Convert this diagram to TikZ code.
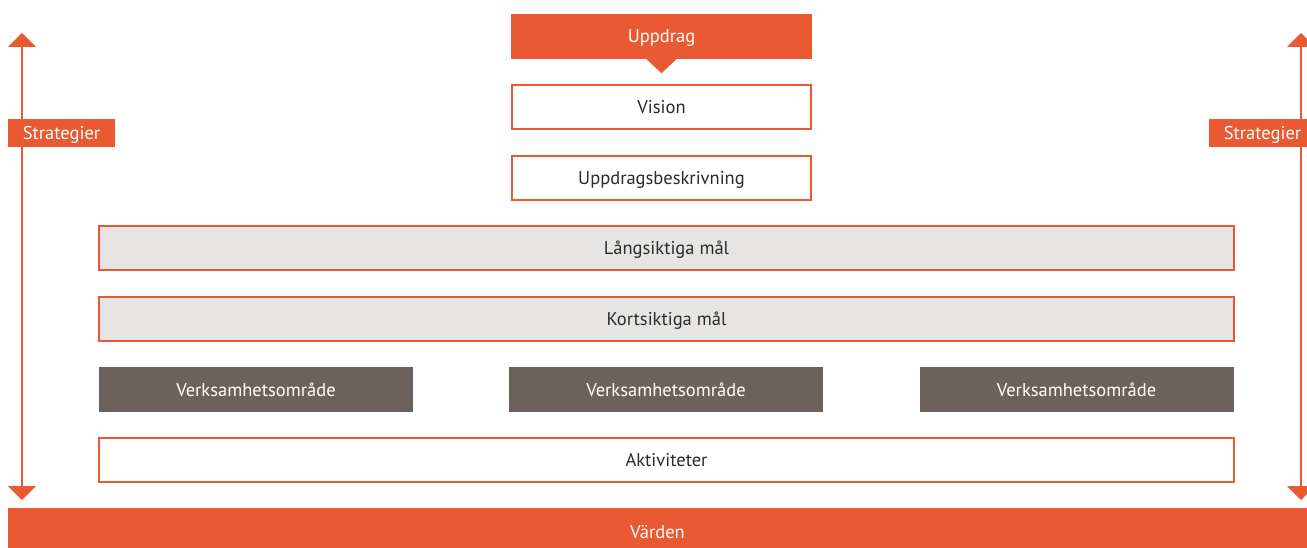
\documentclass[tikz,border=0pt]{standalone}
\usepackage{fontspec}
\setmainfont{PT Sans}
\usetikzlibrary{arrows.meta}
\definecolor{orng}{HTML}{E95A32}
\definecolor{lgrey}{HTML}{E6E5E3}
\definecolor{brwn}{HTML}{6D625B}
\definecolor{txt}{HTML}{2B2B2B}
\begin{document}
\begin{tikzpicture}[x=1pt, y=-1pt, font=\fontsize{18.5}{22}\selectfont,
  every node/.style = {text height=13pt, text depth=0pt, inner sep=0pt},
  box/.style = {draw=orng, line width=2pt, fill=white, text=txt, minimum height=44pt},
  wide/.style = {box, fill=lgrey, minimum width=1135pt},
  area/.style = {fill=brwn, text=white, minimum width=314pt, minimum height=45pt},
  tag/.style = {fill=orng, text=white, minimum width=107pt, minimum height=28pt}]
\useasboundingbox (0,0) rectangle (1307,548);
\node[fill=orng, text=white, minimum width=301pt, minimum height=45pt](up) at (661.5,36.5){Uppdrag};
\fill[orng] (up.south) ++(-15,0) -- ++(15,14) -- ++(15,-14) -- cycle;
\node[box, minimum width=299pt](vis) at (661.5,107){Vision};
\node[box, minimum width=299pt](besk) at (661.5,178){Uppdragsbeskrivning};
\node[wide](lang) at (666.5,248){Långsiktiga mål};
\node[wide](kort) at (666.5,319){Kortsiktiga mål};
\node[area](v1) at (256,389.5){Verksamhetsområde};
\node[area](v2) at (666,389.5){Verksamhetsområde};
\node[area](v3) at (1076.5,389.5){Verksamhetsområde};
\node[box, minimum width=1135pt](akt) at (666.5,460){Aktiviteter};
\node[fill=orng, text=white, minimum width=1299pt, minimum height=48pt](vard) at (657.5,532){Värden};
\coordinate (lt) at (22,33);
\coordinate (lb) at (22,500);
\coordinate (rt) at (1301,33);
\coordinate (rb) at (1301,500);
\draw[orng, line width=2pt, {Triangle[width=28pt,length=14pt]}-{Triangle[width=28pt,length=14pt]}] (lt) -- (lb);
\draw[orng, line width=2pt, {Triangle[width=28pt,length=14pt]}-{Triangle[width=28pt,length=14pt]}] (rt) -- (rb);
\node[tag](sl) at (61.5,133){Strategier};
\node[tag](sr) at (1262.5,133){Strategier};
\end{tikzpicture}
\end{document}
